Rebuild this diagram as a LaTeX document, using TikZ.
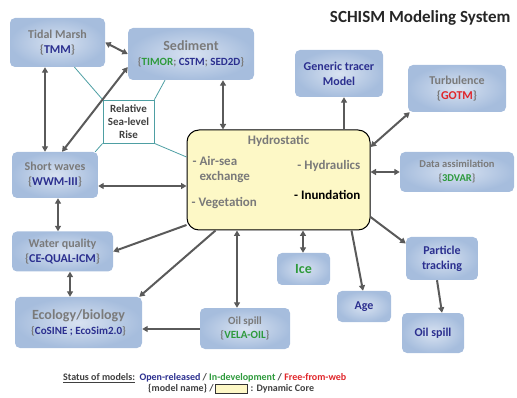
\documentclass[tikz,border=0pt]{standalone}
\usepackage{fontspec}
\setmainfont{Carlito}
\usetikzlibrary{arrows.meta, positioning}

\definecolor{labgray}{HTML}{7A7A7A}
\definecolor{navy}{HTML}{2B2F8F}
\definecolor{devgreen}{HTML}{2E9A3C}
\definecolor{webred}{HTML}{E0262B}
\definecolor{arrowgray}{HTML}{5A5A5A}
\definecolor{slrteal}{HTML}{4E9FA3}
\definecolor{coreyellow}{HTML}{FDF8C6}
\definecolor{boxin}{HTML}{D8E2F1}
\definecolor{boxout}{HTML}{A6BDDD}

\newcommand{\released}[1]{\textcolor{navy}{#1}}
\newcommand{\indev}[1]{\textcolor{devgreen}{#1}}
\newcommand{\fromweb}[1]{\textcolor{webred}{#1}}

\begin{document}
\begin{tikzpicture}[
    x=1pt, y=-1pt,
    model/.style={
        rounded corners=5pt,
        inner color=boxin,
        outer color=boxout,
        align=center,
        inner sep=0pt,
        text=labgray,
        font=\fontsize{12}{15}\selectfont\bfseries
    },
    bigmodel/.style={model, font=\fontsize{14}{16}\selectfont\bfseries},
    core/.style={draw=black, line width=1pt, rounded corners=12pt, fill=coreyellow},
    coretxt/.style={text=labgray, align=left, inner sep=0pt, font=\fontsize{13}{15}\selectfont\bfseries},
    slrbox/.style={draw=slrteal, line width=0.8pt, fill=white, align=center, inner sep=0pt,
        text=black!75, font=\fontsize{11}{13}\selectfont\bfseries},
    slrline/.style={draw=slrteal, line width=0.8pt},
    link/.style={draw=arrowgray, line width=2pt, -{Triangle[length=5.5pt, width=6pt]}},
    dlink/.style={link, {Triangle[length=5.5pt, width=6pt]}-{Triangle[length=5.5pt, width=6pt]}},
    legend/.style={inner sep=0pt, text=black!75, font=\fontsize{10}{11}\selectfont\bfseries}
]
\useasboundingbox (0,0) rectangle (517,398);

% Title
\node[font=\fontsize{17}{19}\selectfont\bfseries, text=black!85, anchor=east] (title) at (514,18) {SCHISM Modeling System};

% Dynamic core
\node[core, minimum width=183pt, minimum height=100pt] (hydro) at (278.5,180) {};
\node[coretxt, below=6pt of hydro.north] (hytitle) {Hydrostatic};
\node[coretxt, anchor=west] (airsea) at ([xshift=6pt, yshift=-40pt]hydro.north west) {- Air-sea\\\hphantom{- }exchange};
\node[coretxt, anchor=west] (veg) at ([xshift=5pt, yshift=27pt]hydro.south west) {- Vegetation};
\node[coretxt, anchor=east] (hydraul) at ([xshift=-10pt, yshift=-36pt]hydro.north east) {- Hydraulics};
\node[coretxt, anchor=east, text=black] (inund) at ([xshift=-10pt, yshift=-65pt]hydro.north east) {- Inundation};

% Model boxes, upper row
\node[model, minimum width=95pt, minimum height=49pt] (tidal) at (57.5,42.5) {Tidal Marsh\\\{\released{TMM}\}};
\node[bigmodel, minimum width=126pt, minimum height=52pt] (sediment) at (191,54)
    {Sediment\\[-1pt]{\fontsize{11}{13}\selectfont\{\indev{TIMOR}; \released{CSTM}; \released{SED2D}\}}};
\node[model, text=navy, minimum width=88pt, minimum height=47pt] (tracer) at (339,73.5) {Generic tracer\\Model};
\node[model, minimum width=98pt, minimum height=47pt] (turb) at (457,88.5) {Turbulence\\\{\fromweb{GOTM}\}};

% Model boxes, sides
\node[slrbox, minimum width=51pt, minimum height=43pt] (slr) at (128.5,121.5) {Relative\\Sea-level\\Rise};
\node[model, minimum width=86pt, minimum height=46pt] (waves) at (55,175) {Short waves\\\{\released{WWM-III}\}};
\node[model, font=\fontsize{10.5}{14}\selectfont\bfseries, minimum width=114pt, minimum height=40pt] (assim) at (457,172)
    {Data assimilation\\\{\indev{3DVAR}\}};
\node[model, minimum width=101pt, minimum height=40pt] (wq) at (62.5,251.5) {Water quality\\\{\released{CE-QUAL-ICM}\}};

% Model boxes, lower row
\node[model, text=devgreen, font=\fontsize{14}{15}\selectfont\bfseries, minimum width=53pt, minimum height=32pt] (ice) at (303.5,269) {Ice};
\node[model, text=navy, minimum width=54pt, minimum height=31pt] (age) at (364,306.5) {Age};
\node[model, text=navy, minimum width=72pt, minimum height=43pt] (ptrack) at (442,258.5) {Particle\\tracking};
\node[model, text=navy, minimum width=62pt, minimum height=40pt] (oilspill) at (433,333) {Oil spill};
\node[bigmodel, minimum width=127pt, minimum height=51pt] (ecobio) at (78.5,322.5)
    {Ecology/biology\\[-1pt]{\fontsize{11}{13}\selectfont\{\released{CoSINE ; EcoSim2.0}\}}};
\node[model, font=\fontsize{11}{14}\selectfont\bfseries, minimum width=90pt, minimum height=41pt] (velaoil) at (245,328.5)
    {Oil spill\\\{\indev{VELA-OIL}\}};

% Sea-level rise links
\draw[slrline] (slr.north west) -- ([xshift=17pt]tidal.south);
\draw[slrline] (slr.north east) -- ([xshift=-26pt]sediment.south);
\draw[slrline] (slr.south west) -- ([xshift=-3pt]waves.north east);
\draw[slrline] (slr.south east) -- ([yshift=23pt]hydro.west);

% Arrows
\draw[dlink] (tidal.east) -- (sediment.west);
\draw[dlink] ([xshift=-12.5pt]tidal.south) -- ([xshift=-12.5pt]tidal.south |- waves.north);
\draw[dlink] ([xshift=7pt]waves.north) -- ([yshift=-13pt]sediment.west);
\draw[dlink] ([xshift=32pt]sediment.south) -- ([xshift=32pt]sediment.south |- hydro.north);
\draw[link] ([xshift=5pt]tracer.south |- hydro.north) -- ([xshift=5pt]tracer.south);
\draw[dlink] ([yshift=33pt]hydro.east) -- ([xshift=2pt]turb.south west);
\draw[dlink] ([yshift=-11pt]waves.east) -- ([yshift=-11pt]waves.east -| hydro.west);
\draw[dlink] (assim.west -| hydro.east) -- (assim.west);
\draw[dlink] ([xshift=3pt]waves.south) -- ([xshift=3pt]waves.south |- wq.north);
\draw[link] ([yshift=-45pt]hydro.west) -- (wq.east);
\draw[dlink] ([xshift=7.5pt]wq.south) -- ([xshift=7.5pt]wq.south |- ecobio.north);
\draw[link] ([xshift=-63pt]hydro.south) -- ([xshift=-3pt]ecobio.north east);
\draw[dlink] ([xshift=-41.5pt]hydro.south) -- ([xshift=-41.5pt]hydro.south |- velaoil.north);
\draw[link] ([yshift=-0.5pt]velaoil.west) -- ([yshift=-0.5pt]velaoil.west -| ecobio.east);
\draw[dlink] ([xshift=-0.5pt]ice.north |- hydro.south) -- ([xshift=-0.5pt]ice.north);
\draw[link] ([xshift=73pt]hydro.south) -- ([xshift=-1pt]age.north);
\draw[link] ([yshift=-37pt]hydro.east) -- ([yshift=15pt]ptrack.west);
\draw[link] ([xshift=-5pt]ptrack.south) -- ([xshift=9pt]oilspill.north);

% Legend
\node[legend, anchor=west] (legstatus) at (63,378) {\underline{Status of models:}};
\node[legend, right=4pt of legstatus] (legkinds) {\released{Open-released} / \indev{In-development} / \fromweb{Free-from-web}};
\node[legend, anchor=west] (legname) at (148,389) {\{model name\} /};
\node[draw=black!80, line width=0.6pt, fill=coreyellow, minimum width=32pt, minimum height=9pt, inner sep=0pt,
    right=1pt of legname] (legcore) {};
\node[legend, right=3pt of legcore] (legdyn) {: Dynamic Core};

\end{tikzpicture}
\end{document}
